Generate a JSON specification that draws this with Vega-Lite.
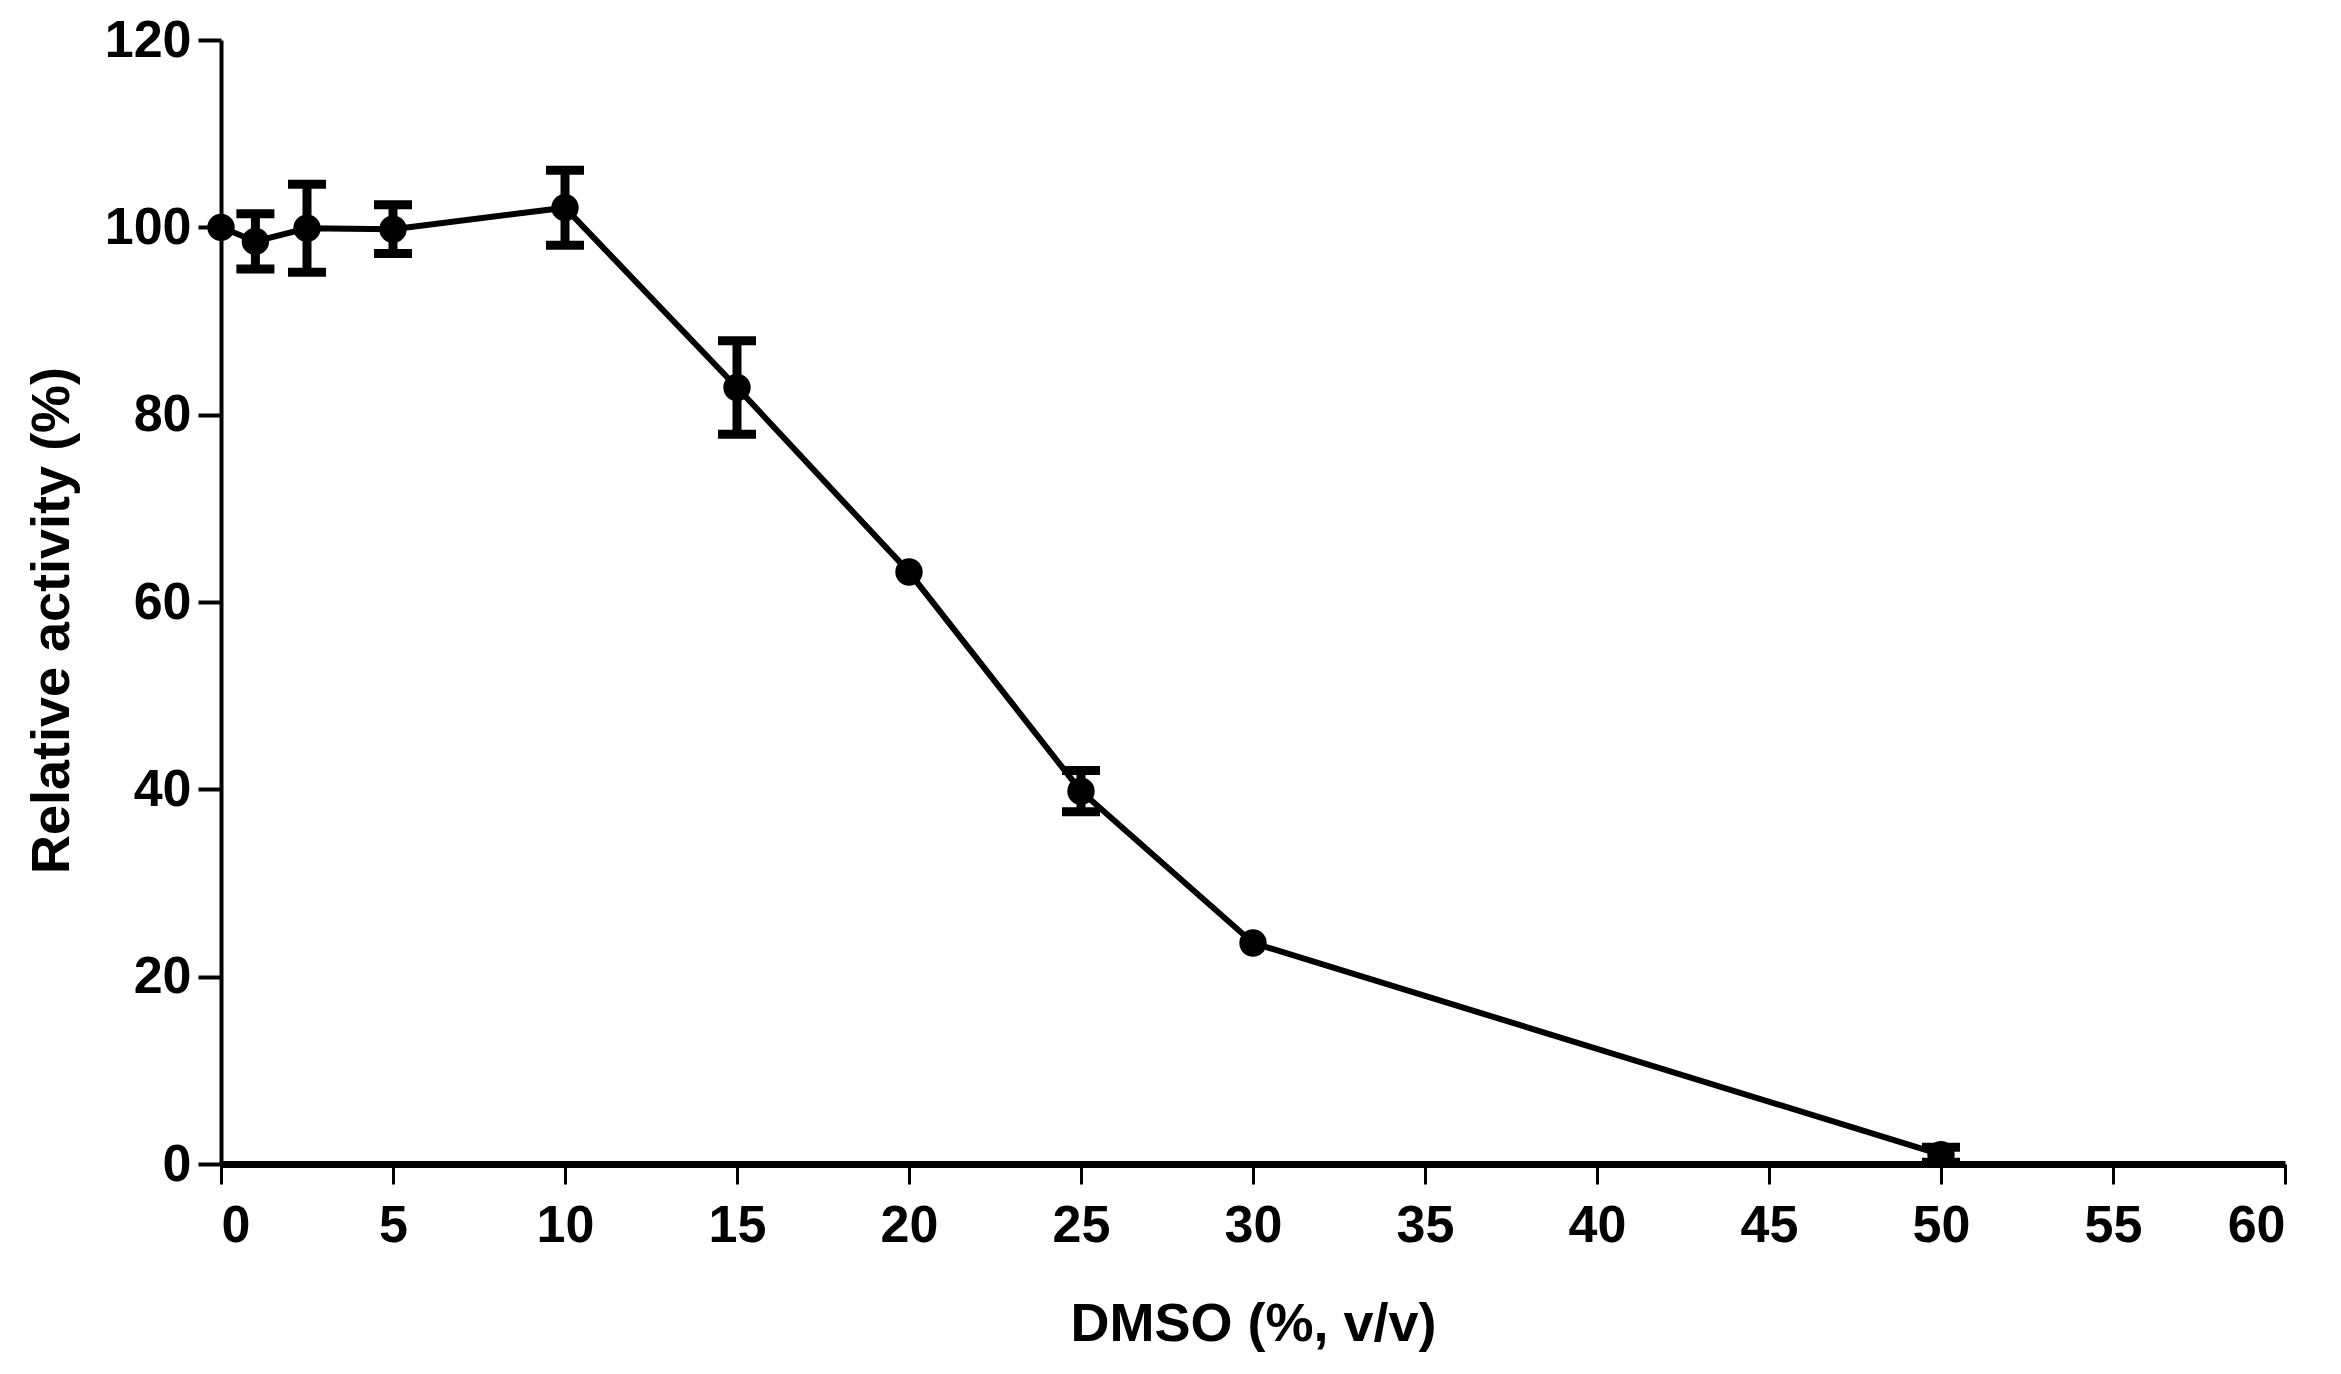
{
  "$schema": "https://vega.github.io/schema/vega-lite/v6.json",
  "autosize": {"type": "none"},
  "padding": {"left": 221, "top": 40, "right": 56, "bottom": 210},
  "width": 2064,
  "height": 1124,
  "background": "white",
  "config": {
    "view": {"stroke": null},
    "font": "Liberation Sans",
    "axis": {"grid": false, "domainColor": "black", "tickColor": "black", "labelColor": "black", "titleColor": "black", "labelFont": "Liberation Sans", "titleFont": "Liberation Sans", "labelFontWeight": "bold", "titleFontWeight": "bold", "labelFontSize": 52, "titleFontSize": 54}
  },
  "data": {
    "values": [
      {"dmso": 0, "activity": 100.0, "sd": 0},
      {"dmso": 1, "activity": 98.5, "sd": 2.95},
      {"dmso": 2.5, "activity": 99.9, "sd": 4.7},
      {"dmso": 5, "activity": 99.8, "sd": 2.6},
      {"dmso": 10, "activity": 102.1, "sd": 4.0},
      {"dmso": 15, "activity": 82.9, "sd": 5.0},
      {"dmso": 20, "activity": 63.2, "sd": 0},
      {"dmso": 25, "activity": 39.8, "sd": 2.2},
      {"dmso": 30, "activity": 23.6, "sd": 0},
      {"dmso": 50, "activity": 1.0, "sd": 0.8}
    ]
  },
  "encoding": {
    "x": {
      "field": "dmso", "type": "quantitative",
      "scale": {"domain": [0, 60], "nice": false},
      "axis": {"values": [0,5,10,15,20,25,30,35,40,45,50,55,60], "title": "DMSO (%, v/v)", "domainWidth": 7, "tickWidth": 3, "tickSize": 20, "labelPadding": 16, "titleY": 176, "titleBaseline": "alphabetic"}
    },
    "y": {
      "field": "activity", "type": "quantitative",
      "scale": {"domain": [0, 120], "nice": false},
      "axis": {"values": [0,20,40,60,80,100,120], "title": "Relative activity (%)", "domainWidth": 4, "tickWidth": 4, "tickSize": 23, "labelPadding": 7, "titlePadding": 25, "titleY": 580}
    }
  },
  "layer": [
    {"mark": {"type": "line", "color": "black", "strokeWidth": 6}},
    {
      "transform": [{"filter": "datum.sd > 0"}],
      "mark": {"type": "errorbar", "color": "black", "rule": {"strokeWidth": 9, "opacity": 1}, "ticks": {"size": 38, "thickness": 9, "color": "black", "opacity": 1}},
      "encoding": {"yError": {"field": "sd"}}
    },
    {"mark": {"type": "point", "shape": "circle", "filled": true, "color": "black", "opacity": 1, "size": 750}}
  ]
}
